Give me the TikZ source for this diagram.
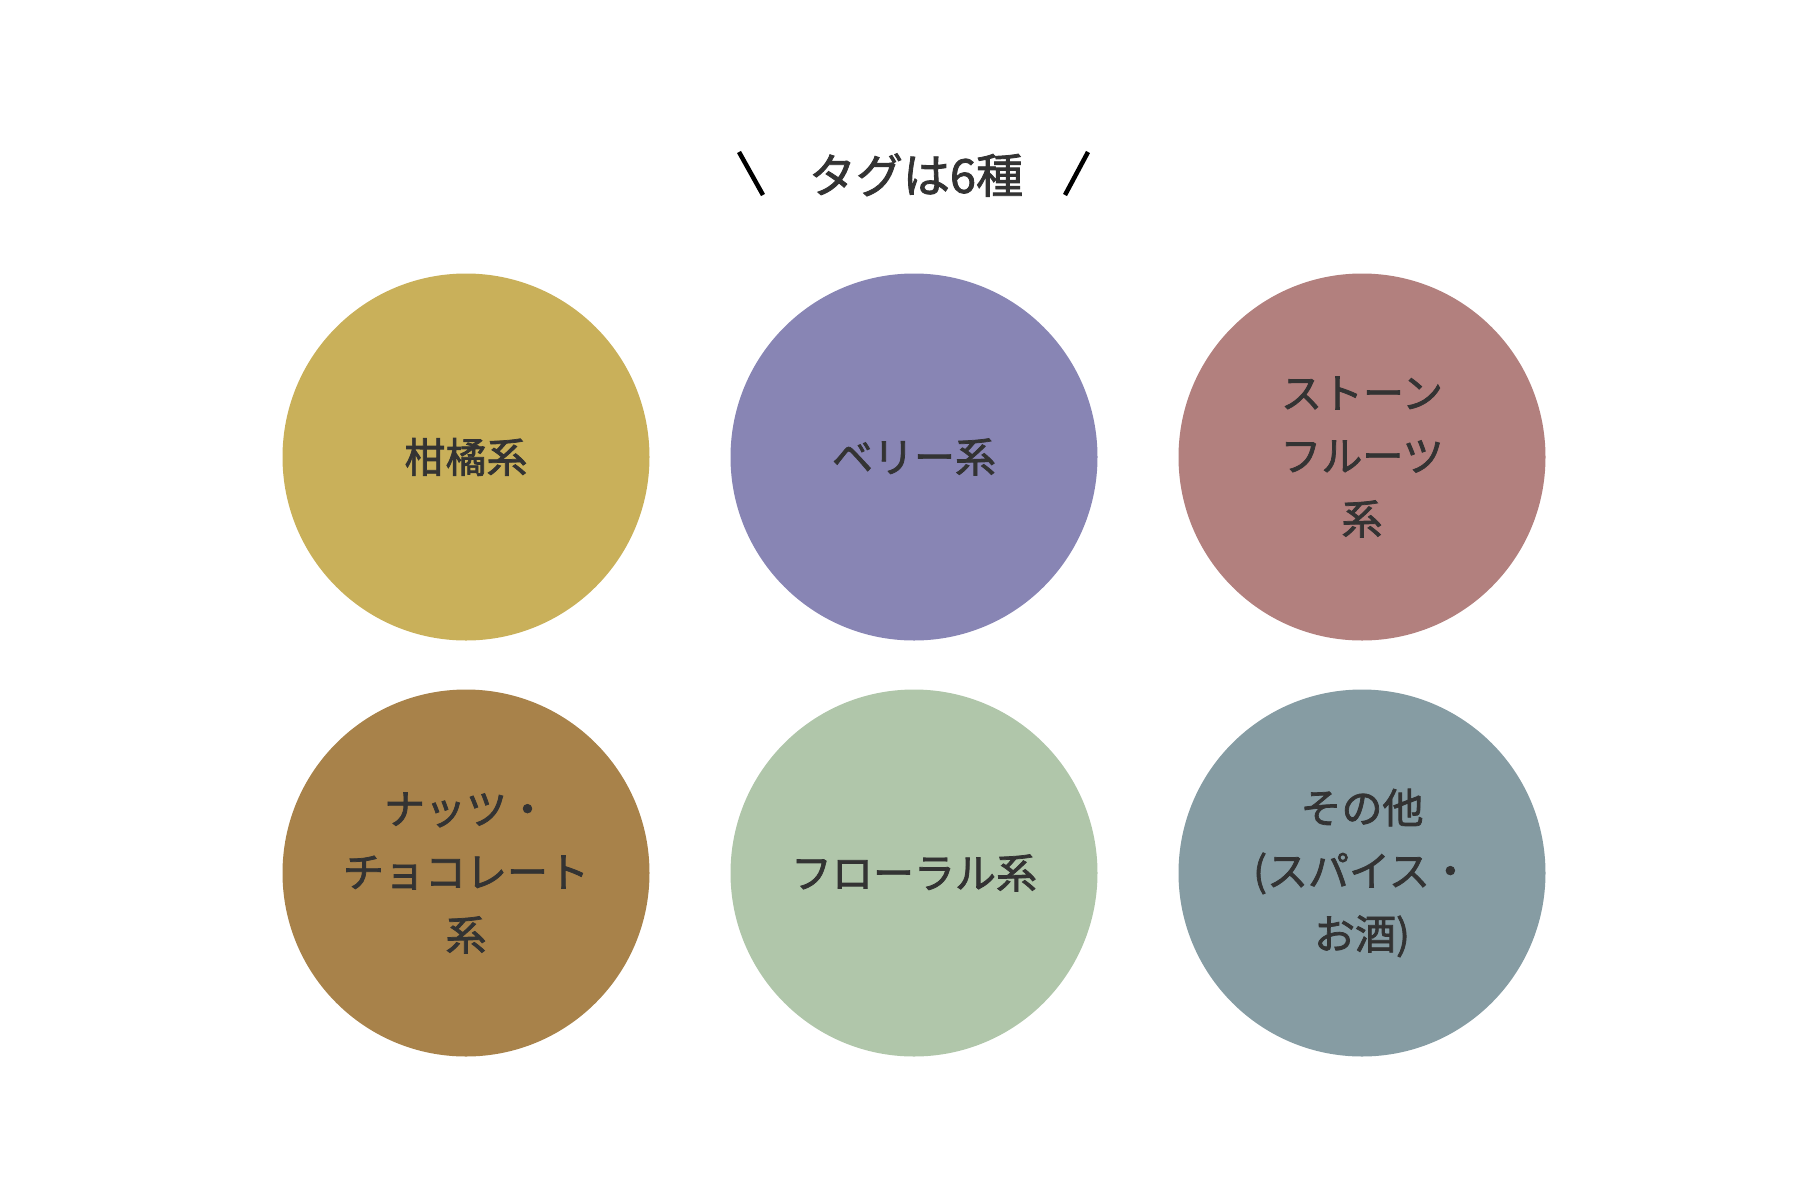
\documentclass[tikz,border=0pt]{standalone}
\usepackage{fontspec}
\newfontfamily\jpfont{Noto Sans CJK JP}[FakeBold=1.8]
\definecolor{txt}{HTML}{333333}
\definecolor{cA}{HTML}{C9B05A}
\definecolor{cB}{HTML}{8885B4}
\definecolor{cC}{HTML}{B2807E}
\definecolor{cD}{HTML}{A8824A}
\definecolor{cE}{HTML}{B0C6AA}
\definecolor{cF}{HTML}{869CA3}
\tikzset{
  tag/.style={circle, minimum size=367pt, inner sep=0pt, align=center, text=txt,
    font={\jpfont\fontsize{41pt}{63pt}\selectfont}},
  ttl/.style={text=txt, font={\jpfont\fontsize{47pt}{56pt}\selectfont}},
  slash/.style={line width=4.5pt, black}
}
\begin{document}
\begin{tikzpicture}[x=1pt,y=-1pt]
\useasboundingbox (0,0) rectangle (1800,1200);
\node[ttl] (title) at (916,175) {タグは6種};
\coordinate (s1a) at (739,152);
\coordinate (s1b) at (763,195);
\coordinate (s2a) at (1088,152);
\coordinate (s2b) at (1065,195);
\draw[slash] (s1a) -- (s1b);
\draw[slash] (s2a) -- (s2b);
\node[tag, fill=cA] (c1) at (466,457) {柑橘系};
\node[tag, fill=cB] (c2) at (914,457) {ベリー系};
\node[tag, fill=cC] (c3) at (1362,457) {ストーン\\フルーツ\\系};
\node[tag, fill=cD] (c4) at (466,873) {ナッツ・\\チョコレート\\系};
\node[tag, fill=cE] (c5) at (914,873) {フローラル系};
\node[tag, fill=cF] (c6) at (1362,873) {その他\\(スパイス・\\お酒)};
\end{tikzpicture}
\end{document}
